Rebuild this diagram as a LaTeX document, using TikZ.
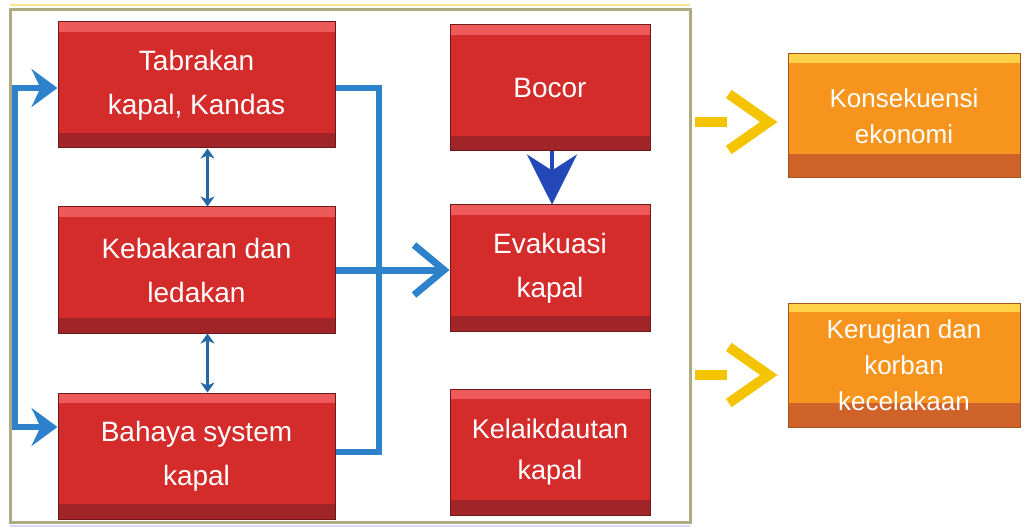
\documentclass[tikz,border=0pt]{standalone}
\usepackage{fontspec}
\setmainfont{Liberation Sans}
\usetikzlibrary{arrows.meta,calc}
\definecolor{boxred}{HTML}{D42B2B}
\definecolor{redtop}{HTML}{EE5A5A}
\definecolor{redbot}{HTML}{A02428}
\definecolor{redline}{HTML}{6E1A1A}
\definecolor{boxorange}{HTML}{F7941D}
\definecolor{orangetop}{HTML}{FFD24A}
\definecolor{orangebot}{HTML}{CF6228}
\definecolor{orangeline}{HTML}{A8521E}
\definecolor{conblue}{HTML}{2E82CC}
\definecolor{darkblue}{HTML}{2448B8}
\definecolor{arrowyellow}{HTML}{F5C400}
\definecolor{framecol}{HTML}{AEAA82}
\tikzset{
  redbox/.style={rectangle, fill=boxred, draw=redline, line width=1pt,
    minimum height=126pt, text=white, align=center,
    font=\fontsize{28}{44}\selectfont, inner sep=0pt,
    path picture={
      \fill[redtop] (path picture bounding box.north west) rectangle ([yshift=-10pt]path picture bounding box.north east);
      \fill[redbot] (path picture bounding box.south west) rectangle ([yshift=15pt]path picture bounding box.south east);
    }},
  leftbox/.style={redbox, minimum width=277pt},
  rightbox/.style={redbox, minimum width=200pt},
  orangebox/.style={rectangle, fill=boxorange, draw=orangeline, line width=1pt,
    minimum width=232pt, minimum height=124pt, text=white, align=center,
    font=\fontsize{26}{36}\selectfont, inner sep=0pt,
    path picture={
      \fill[orangetop] (path picture bounding box.north west) rectangle ([yshift=-9pt]path picture bounding box.north east);
      \fill[orangebot] (path picture bounding box.south west) rectangle ([yshift=24pt]path picture bounding box.south east);
    }},
  bluecon/.style={draw=conblue, line width=6pt},
  bluetip/.style={bluecon, {Stealth[length=26pt,width=38pt,inset=9pt]}-{Stealth[length=26pt,width=38pt,inset=9pt]}},
  dblarrow/.style={draw=conblue!80!black, line width=3pt, {Stealth[length=10pt,width=14pt,inset=3pt]}-{Stealth[length=10pt,width=14pt,inset=3pt]}},
  chevron/.style={bluecon, line width=7pt, -{Straight Barb[length=30pt,width=50pt,line width=7pt]}},
  downarrow/.style={draw=darkblue, line width=4pt, -{Stealth[length=50pt,width=50pt,inset=16pt]}},
  yelarrow/.style={draw=arrowyellow, line width=10pt, dash pattern=on 32pt off 200pt,
    -{Straight Barb[length=40pt,width=56pt,line width=10pt]}},
}
\begin{document}
\begin{tikzpicture}[x=1pt,y=-1pt]
\useasboundingbox (0,0) rectangle (1024,529);
\fill[white] (0,0) rectangle (1024,529);
% frame
\draw[arrowyellow!45, line width=2pt] (10,5) -- (690,5);
\draw[framecol, line width=3pt] (10,10) rectangle (690,522);
\draw[blue!15, line width=2pt] (10,526) -- (690,526);
% left boxes
\node[leftbox] (tab) at (196.5,85) {Tabrakan\\kapal, Kandas};
\node[leftbox] (keb) at (196.5,270) {Kebakaran dan\\ledakan};
\node[leftbox] (bah) at (196.5,456) {Bahaya system\\kapal};
% right red boxes
\node[rightbox] (bocor) at (550,88) {Bocor};
\node[rightbox] (evak) at (550,268) {Evakuasi\\kapal};
\node[rightbox, font=\fontsize{27}{41}\selectfont] (kelaik) at (550,452) {Kelaikdautan\\kapal};
% orange boxes
\node[orangebox] (kons) at (904,116) {Konsekuensi\\ekonomi};
\node[orangebox] (kerug) at (904,365) {Kerugian dan\\korban\\kecelakaan};
% connectors
\draw[bluetip] ([yshift=-3pt]tab.west) -- ++(-43pt,0) |- ([yshift=29pt]bah.west);
\draw[bluecon] ([yshift=-3pt]tab.east) -- ++(43pt,0) |- ([yshift=4pt]bah.east);
\draw[chevron] (keb.east) -- (keb.east -| evak.west);
\draw[dblarrow] ([xshift=11pt]tab.south) -- ([xshift=11pt]keb.north);
\draw[dblarrow] ([xshift=11pt]keb.south) -- ([xshift=11pt]bah.north);
\draw[downarrow] ([xshift=2pt]bocor.south) -- ([xshift=2pt]evak.north);
\coordinate (y1) at (695,122);
\coordinate (y2) at (695,375);
\draw[yelarrow] (y1) -- ([xshift=-10pt]kons.west |- y1);
\draw[yelarrow] (y2) -- ([xshift=-10pt]kerug.west |- y2);
\end{tikzpicture}
\end{document}
